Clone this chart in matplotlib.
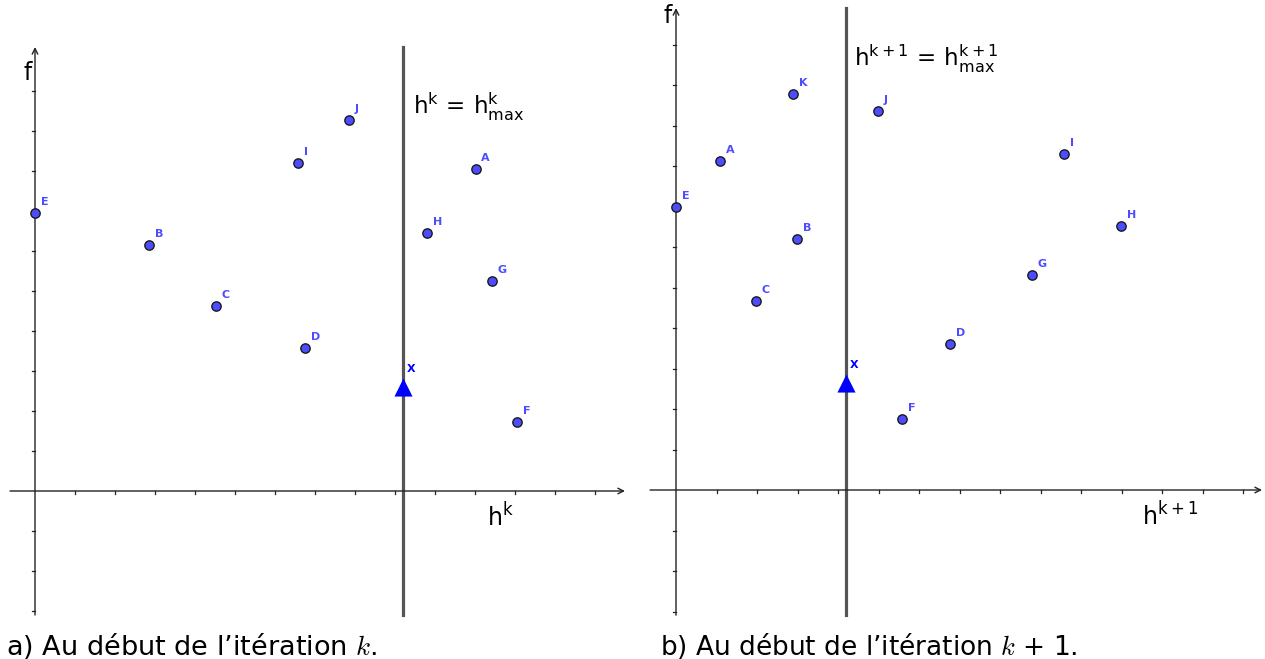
import matplotlib
matplotlib.use("Agg")
import matplotlib.pyplot as plt

# ---- data: panel a (iteration k) ----
labels_a = ["E", "B", "C", "D", "I", "J", "A", "H", "G", "F"]
x_a = [0.0, 2.85, 4.52, 6.75, 6.58, 7.85, 11.02, 9.8, 11.42, 12.05]
y_a = [6.95, 6.15, 4.62, 3.57, 8.2, 9.27, 8.05, 6.45, 5.25, 1.72]
hmax_a = 9.2
xpt_a = 2.6

# ---- data: panel b (iteration k+1) ----
labels_b = ["E", "A", "K", "J", "B", "C", "F", "D", "G", "I", "H"]
x_b = [0.0, 1.09, 2.89, 4.99, 2.99, 1.98, 5.58, 6.77, 8.79, 9.58, 10.99]
y_b = [6.99, 8.12, 9.78, 9.36, 6.2, 4.67, 1.75, 3.6, 5.31, 8.3, 6.52]
hmax_b = 4.2
xpt_b = 2.64

W, H = 1265, 659
fig = plt.figure(figsize=(W / 100, H / 100), dpi=100)

PT_COL = "#4d4dff"


def make_axes(px_left, px_right, px_top, px_bottom, ox, oy, scale):
    ax = fig.add_axes([px_left / W, 1 - px_bottom / H,
                       (px_right - px_left) / W, (px_bottom - px_top) / H])
    ax.set_xlim((px_left - ox) / scale, (px_right - ox) / scale)
    ax.set_ylim((oy - px_bottom) / scale, (oy - px_top) / scale)
    ax.axis("off")
    return ax


def draw_panel(ax, xr, yr, xticks, yticks, labels, xs, ys, hmax, xpt,
               hlabel, eqlabel, eqpos, hlabelpos, fpos):
    # axes with arrows
    ax.annotate("", xy=(xr[1], 0), xytext=(xr[0], 0),
                arrowprops=dict(arrowstyle="->", color="#222222", lw=1.0,
                                shrinkA=0, shrinkB=0, mutation_scale=10))
    ax.annotate("", xy=(0, yr[1]), xytext=(0, yr[0]),
                arrowprops=dict(arrowstyle="->", color="#222222", lw=1.0,
                                shrinkA=0, shrinkB=0, mutation_scale=10))
    # ticks
    for t in xticks:
        ax.plot([t, t], [0, -0.08], color="#222222", lw=0.9)
    for t in yticks:
        ax.plot([-0.08, 0], [t, t], color="#222222", lw=0.9)
    # vertical line h = hmax
    ax.plot([hmax, hmax], [yr[0], yr[1]], color="#555555", lw=2.3, zorder=2)
    # points
    ax.scatter(xs, ys, s=45, color=PT_COL, edgecolor="#1a1a1a",
               linewidth=1.0, zorder=4)
    for lab, x, y in zip(labels, xs, ys):
        ax.annotate(lab, (x, y), xytext=(4, 6), textcoords="offset points",
                    color=PT_COL, fontsize=8, fontweight="bold",
                    family="DejaVu Sans")
    # X triangle
    ax.scatter([hmax], [xpt], marker="^", s=170, color="#0000ff",
               zorder=5, linewidth=0)
    ax.annotate("X", (hmax, xpt), xytext=(3, 11), textcoords="offset points",
                color="#0000ff", fontsize=8, fontweight="bold")
    # labels
    ax.text(eqpos[0], eqpos[1], eqlabel, fontsize=16.5, color="black",
            math_fontfamily="dejavusans", va="center")
    ax.text(hlabelpos[0], hlabelpos[1], hlabel, fontsize=17, color="black",
            math_fontfamily="dejavusans", va="center")
    ax.text(fpos[0], fpos[1], "f", fontsize=17, color="black", va="center")


# panel a: origin at pixel (35, 491), 40 px/unit
ax_a = make_axes(5, 635, 30, 620, 35, 491, 40.0)
draw_panel(ax_a, (-0.625, 14.75), (-3.1, 11.1), range(1, 15),
           [-3, -2, -1] + list(range(1, 11)),
           labels_a, x_a, y_a, hmax_a, xpt_a,
           r"$\mathrm{h^k}$", r"$\mathrm{h^k\,=\,h^k_{max}}$",
           (9.45, 9.6), (11.3, -0.65), (-0.28, 10.45))

# panel b: origin at pixel (676, 490), 40.5 px/unit
ax_b = make_axes(645, 1265, 0, 620, 676, 490, 40.5)
draw_panel(ax_b, (-0.64, 14.47), (-3.09, 11.9), range(1, 15),
           [-3, -2, -1] + list(range(1, 12)),
           labels_b, x_b, y_b, hmax_b, xpt_b,
           r"$\mathrm{h^{k+1}}$", r"$\mathrm{h^{k+1}\,=\,h^{k+1}_{max}}$",
           (4.4, 10.65), (11.5, -0.65), (-0.3, 11.7))

# captions
fig.text(6 / W, 1 - 655 / H, "a) Au début de l\u2019itération $k$.",
         fontsize=19.5, va="baseline", ha="left", math_fontfamily="cm")
fig.text(660 / W, 1 - 655 / H, "b) Au début de l\u2019itération $k$ + 1.",
         fontsize=19, va="baseline", ha="left", math_fontfamily="cm")

fig.savefig("out.png", dpi=100, facecolor="white")
